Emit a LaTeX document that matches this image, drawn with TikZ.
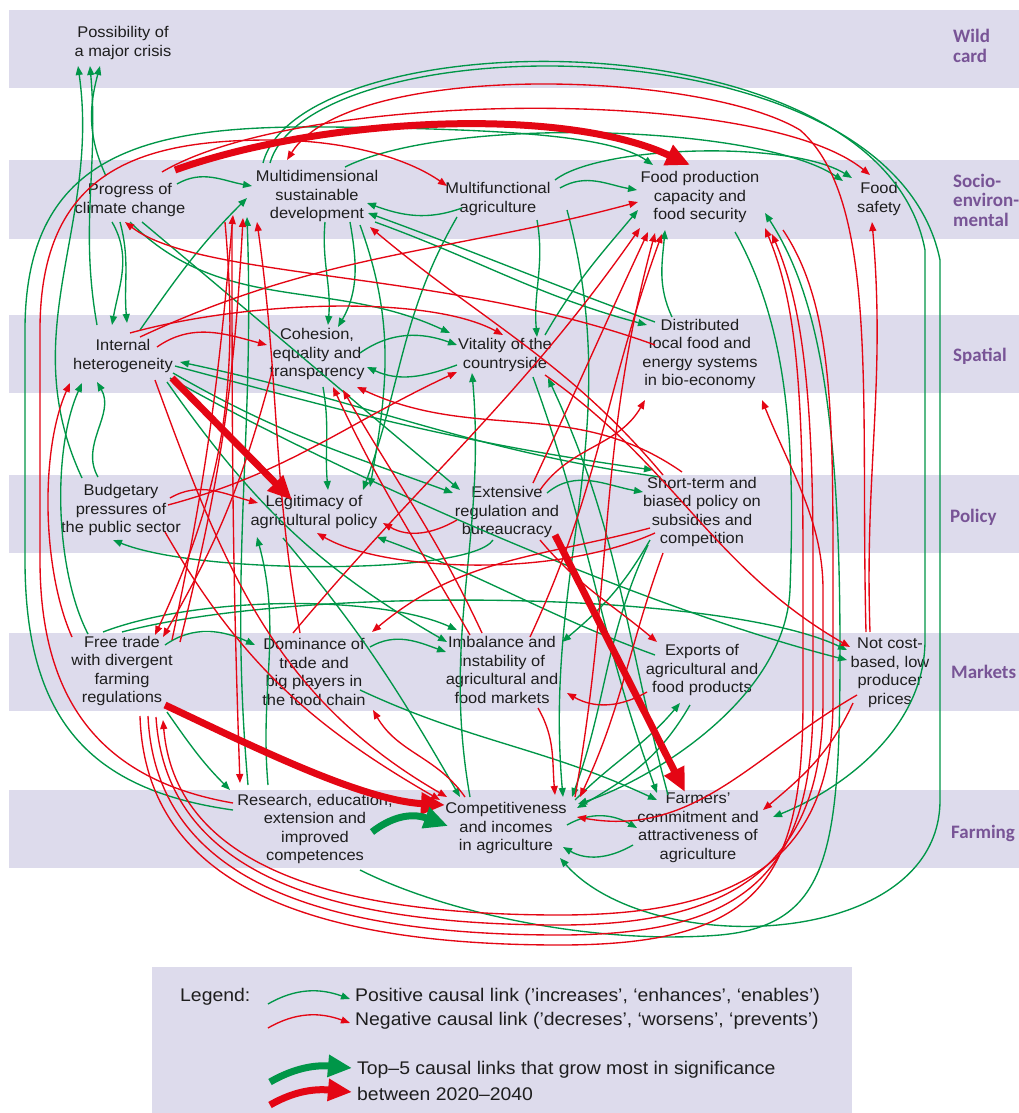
\documentclass[tikz,border=0pt]{standalone}
\usepackage{fontspec}
\setmainfont{Liberation Sans}[FakeStretch=1.06]
\newfontfamily\bandfont{Carlito}
\usetikzlibrary{arrows.meta}
\definecolor{band}{RGB}{221,219,236}
\definecolor{pgreen}{RGB}{0,150,72}
\definecolor{nred}{RGB}{228,6,20}
\definecolor{bandtxt}{RGB}{120,84,150}
\definecolor{nodetxt}{RGB}{30,30,30}
\tikzset{
  x=1pt, y=1pt,
  lbl/.style={align=center, font=\fontsize{15.5}{18.5}\selectfont, text=nodetxt, inner sep=1pt},
  legtxt/.style={anchor=west, font=\fontsize{18.3}{22}\selectfont, text=nodetxt, inner sep=0pt},
  bandlbl/.style={anchor=west, align=left, font=\bandfont\bfseries\fontsize{19}{19.5}\selectfont, text=bandtxt, inner sep=0pt},
  pl/.style={draw=pgreen, line width=1.35pt, -{Triangle[length=9pt,width=7pt]}},
  nl/.style={draw=nred, line width=1.35pt, -{Triangle[length=9pt,width=7pt]}},
  thickred/.style={draw=nred, line width=7pt, -{Triangle[length=24pt,width=21pt]}},
  thickgreen/.style={draw=pgreen, line width=7pt, -{Triangle[length=24pt,width=21pt]}},
}
\begin{document}
\begin{tikzpicture}
\useasboundingbox (0,0) rectangle (1019,-1113);
\fill[white] (0,0) rectangle (1019,-1113);
% category bands
\fill[band] (9,-10) rectangle (1019,-88);
\fill[band] (9,-160) rectangle (1019,-239);
\fill[band] (9,-315) rectangle (1019,-393);
\fill[band] (9,-475) rectangle (1019,-553);
\fill[band] (9,-633) rectangle (1019,-711);
\fill[band] (9,-790) rectangle (1019,-868);
\fill[band] (152,-967) rectangle (852,-1113);
% band titles
\node[bandlbl] (bwild) at (953,-46) {Wild\\card};
\node[bandlbl] (bsoc) at (953,-200) {Socio-\\environ-\\mental};
\node[bandlbl] (bspa) at (953,-356) {Spatial};
\node[bandlbl] (bpol) at (950,-517) {Policy};
\node[bandlbl] (bmar) at (951,-672) {Markets};
\node[bandlbl] (bfar) at (951,-833) {Farming};
% factors
\node[lbl] (poss) at (123,-43) {Possibility of\\a major crisis};
\node[lbl] (clim) at (130,-200) {Progress of\\climate change};
\node[lbl] (msd) at (317,-196) {Multidimensional\\sustainable\\development};
\node[lbl] (mfa) at (498,-199) {Multifunctional\\agriculture};
\node[lbl] (fpc) at (700,-197) {Food production\\capacity and\\food security};
\node[lbl] (fsaf) at (879,-199) {Food\\safety};
\node[lbl] (ihet) at (123,-356) {Internal\\heterogeneity};
\node[lbl] (coh) at (317,-354) {Cohesion,\\equality and\\transparency};
\node[lbl] (vit) at (505,-355) {Vitality of the\\countryside};
\node[lbl] (dist) at (700,-354) {Distributed\\local food and\\energy systems\\in bio-economy};
\node[lbl] (bud) at (121,-510) {Budgetary\\pressures of\\the public sector};
\node[lbl] (leg) at (314,-512) {Legitimacy of\\agricultural policy};
\node[lbl] (ext) at (507,-512) {Extensive\\regulation and\\bureaucracy};
\node[lbl] (stp) at (702,-512) {Short-term and\\biased policy on\\subsidies and\\competition};
\node[lbl] (ftr) at (122,-671) {Free trade\\with divergent\\farming\\regulations};
\node[lbl] (dom) at (314,-672) {Dominance of\\trade and\\big players in\\the food chain};
\node[lbl] (imb) at (502,-670) {Imbalance and\\instability of\\agricultural and\\food markets};
\node[lbl] (exp) at (702,-670) {Exports of\\agricultural and\\food products};
\node[lbl] (ncb) at (890,-673) {Not cost-\\based, low\\producer\\prices};
\node[lbl] (res) at (315,-829) {Research, education,\\extension and\\improved\\competences};
\node[lbl] (comp) at (506,-828) {Competitiveness\\and incomes\\in agriculture};
\node[lbl] (farm) at (698,-828) {Farmers’\\commitment and\\attractiveness of\\agriculture};

% ---------- positive links ----------
\draw[pl] ([shift={(-24,24)}]clim.center) to[out=115,in=-105] ([shift={(-23,-23)}]poss.center);
\draw[pl] ([shift={(-39,32)}]bud.center) to[out=115,in=-82] ([shift={(-45,-23)}]poss.center);
\draw[pl] ([shift={(-26,31)}]ihet.center) to[out=100,in=-85] ([shift={(-33,-23)}]poss.center);
\draw[pl] ([shift={(47,16)}]clim.center) to[out=30,in=170] ([shift={(-65,10)}]msd.center);
\draw[pl] ([shift={(-36,-9)}]mfa.center) to[out=200,in=-20] ([shift={(50,-7)}]msd.center);
\draw[pl] ([shift={(62,11)}]mfa.center) to[out=30,in=170] ([shift={(-63,7)}]fpc.center);
\draw[pl] ([shift={(57,19)}]mfa.center) .. controls (600,-145) and (790,-140) .. ([shift={(-27,21)}]fsaf.center);
\draw[pl] ([shift={(28,29)}]msd.center) .. controls (450,-115) and (760,-125) .. ([shift={(-36,18)}]fsaf.center);
\draw[pl] ([shift={(-54,33)}]msd.center) .. controls (300,-20) and (880,-10) .. (925,-250) -- (925,-640) .. controls (925,-730) and (840,-790) .. ([shift={(75,11)}]farm.center);
\draw[pl] ([shift={(-47,33)}]msd.center) .. controls (310,-25) and (890,-15) .. (940,-260) -- (940,-800) .. controls (940,-950) and (650,-960) .. ([shift={(54,-30)}]comp.center);
\draw[pl] ([shift={(-82,19)}]res.center) .. controls (90,-790) and (25,-720) .. (25,-560) -- (25,-330) .. controls (25,-150) and (150,-125) .. (330,-127) .. controls (500,-129) and (610,-135) .. ([shift={(-47,32)}]fpc.center);
\draw[pl] ([shift={(-28,37)}]dist.center) to[out=115,in=-95] ([shift={(-35,-33)}]fpc.center);
\draw[pl] ([shift={(-18,-22)}]clim.center) to[out=-60,in=80] ([shift={(-11,31)}]ihet.center);
\draw[pl] ([shift={(-10,-22)}]clim.center) to[out=-75,in=95] ([shift={(4,33)}]ihet.center);
\draw[pl] ([shift={(17,26)}]ihet.center) to[out=55,in=-135] ([shift={(-70,-2)}]msd.center);
\draw[pl] ([shift={(8,-26)}]msd.center) to[out=-95,in=85] ([shift={(11,29)}]coh.center);
\draw[pl] ([shift={(33,-26)}]msd.center) to[out=-80,in=60] ([shift={(21,27)}]coh.center);
\draw[pl] ([shift={(6,-33)}]coh.center) to[out=-80,in=95] ([shift={(14,22)}]leg.center);
\draw[pl] ([shift={(43,1)}]coh.center) to[out=35,in=160] ([shift={(-48,10)}]vit.center);
\draw[pl] ([shift={(-48,-10)}]vit.center) to[out=200,in=-25] ([shift={(50,-13)}]coh.center);
\draw[pl] ([shift={(50,-17)}]ihet.center) to[out=-30,in=160] ([shift={(-54,19)}]ext.center);
\draw[pl] ([shift={(52,-10)}]ihet.center) to[out=-15,in=172] ([shift={(-49,42)}]stp.center);
\draw[pl] ([shift={(-42,35)}]stp.center) to[out=172,in=-12] ([shift={(57,-6)}]ihet.center);
\draw[pl] ([shift={(-23,33)}]bud.center) to[out=120,in=-60] ([shift={(-26,-26)}]ihet.center);
\draw[pl] ([shift={(-34,37)}]ftr.center) .. controls (55,-570) and (52,-450) .. ([shift={(-41,-27)}]ihet.center);
\draw[pl] ([shift={(-14,-28)}]ext.center) .. controls (470,-575) and (200,-575) .. ([shift={(-8,-30)}]bud.center);
\draw[pl] ([shift={(40,19)}]ext.center) to[out=40,in=170] ([shift={(-59,20)}]stp.center);
\draw[pl] ([shift={(0,-22)}]clim.center) to[out=-45,in=155] ([shift={(-55,22)}]vit.center);
\draw[pl] ([shift={(12,-22)}]clim.center) to[out=-40,in=140] ([shift={(-47,22)}]ext.center);
\draw[pl] ([shift={(-41,-18)}]mfa.center) to[out=-120,in=70] ([shift={(49,22)}]leg.center);
\draw[pl] ([shift={(43,-29)}]msd.center) to[out=-70,in=80] ([shift={(56,25)}]leg.center);
\draw[pl] ([shift={(39,-21)}]mfa.center) to[out=-80,in=95] ([shift={(32,18)}]vit.center);
\draw[pl] ([shift={(69,-11)}]mfa.center) to[out=-75,in=95] ([shift={(57,31)}]comp.center);
\draw[pl] ([shift={(40,20)}]vit.center) to[out=60,in=-130] ([shift={(-62,-13)}]fpc.center);
\draw[pl] ([shift={(-36,31)}]comp.center) to[out=100,in=-85] ([shift={(-33,-18)}]vit.center);
\draw[pl] ([shift={(-67,44)}]res.center) to[out=95,in=-88] ([shift={(-70,-21)}]msd.center);
\draw[pl] ([shift={(-47,44)}]res.center) to[out=95,in=-75] ([shift={(-57,-25)}]leg.center);
\draw[pl] ([shift={(45,-41)}]res.center) .. controls (450,-915) and (600,-945) .. (720,-935) .. controls (830,-925) and (840,-850) .. (840,-650) .. controls (840,-400) and (815,-290) .. ([shift={(65,-16)}]fpc.center);
\draw[pl] ([shift={(35,-35)}]fpc.center) .. controls (790,-330) and (795,-450) .. (790,-590) .. controls (785,-700) and (650,-780) .. ([shift={(72,24)}]comp.center);
\draw[pl] ([shift={(69,28)}]comp.center) to[out=45,in=-130] ([shift={(-22,-33)}]exp.center);
\draw[pl] ([shift={(-12,-35)}]exp.center) to[out=-120,in=30] ([shift={(71,20)}]comp.center);
\draw[pl] ([shift={(61,3)}]comp.center) to[out=30,in=150] ([shift={(-61,0)}]farm.center);
\draw[pl] ([shift={(-65,-17)}]farm.center) to[out=-150,in=-30] ([shift={(57,-19)}]comp.center);
\draw[pl] ([shift={(46,-18)}]dom.center) to[out=-25,in=155] ([shift={(-41,28)}]farm.center);
\draw[pl] ([shift={(28,-22)}]vit.center) to[out=-70,in=110] ([shift={(-41,35)}]farm.center);
\draw[pl] ([shift={(-30,33)}]farm.center) to[out=105,in=-65] ([shift={(43,-23)}]vit.center);
\draw[pl] ([shift={(-52,-28)}]stp.center) to[out=-120,in=40] ([shift={(60,28)}]imb.center);
\draw[pl] ([shift={(-54,-33)}]stp.center) to[out=-115,in=70] ([shift={(66,31)}]comp.center);
\draw[pl] ([shift={(43,26)}]ftr.center) to[out=35,in=155] ([shift={(-59,27)}]dom.center);
\draw[pl] ([shift={(56,25)}]dom.center) to[out=30,in=160] ([shift={(-56,18)}]imb.center);
\draw[pl] ([shift={(-19,39)}]ftr.center) .. controls (200,-595) and (380,-595) .. ([shift={(-45,40)}]imb.center);
\draw[pl] ([shift={(0,39)}]ftr.center) .. controls (300,-585) and (720,-590) .. ([shift={(-43,23)}]ncb.center);
\draw[pl] ([shift={(47,-22)}]ihet.center) .. controls (350,-480) and (650,-610) .. ([shift={(-43,13)}]ncb.center);
\draw[pl] ([shift={(44,-26)}]ihet.center) to[out=-55,in=150] ([shift={(-55,28)}]imb.center);
\draw[pl] ([shift={(45,-41)}]ftr.center) to[out=-55,in=135] ([shift={(-85,39)}]res.center);
\draw[pl] ([shift={(-31,-26)}]leg.center) to[out=-50,in=120] ([shift={(-46,31)}]comp.center);
\draw[pl] ([shift={(-47,15)}]exp.center) to[out=160,in=-20] ([shift={(63,-25)}]leg.center);
\draw[pl] ([shift={(58,-26)}]msd.center) to[out=-20,in=165] ([shift={(-53,29)}]dist.center);
\draw[pl] ([shift={(-45,32)}]dist.center) to[out=160,in=-20] ([shift={(51,-17)}]msd.center);

% ---------- negative links ----------
\draw[nl] ([shift={(32,28)}]clim.center) .. controls (300,-90) and (760,-85) .. ([shift={(-9,24)}]fsaf.center);
\draw[nl] ([shift={(-82,26)}]res.center) .. controls (100,-780) and (40,-700) .. (40,-560) -- (40,-330) .. controls (40,-170) and (140,-140) .. (270,-140) .. controls (350,-140) and (410,-160) .. ([shift={(-51,13)}]mfa.center);
\draw[nl] ([shift={(-24,41)}]ncb.center) .. controls (860,-400) and (880,-200) .. (800,-130) .. controls (700,-70) and (350,-60) .. ([shift={(-30,36)}]msd.center);
\draw[nl] ([shift={(-20,41)}]ncb.center) to[out=92,in=-85] ([shift={(-7,-23)}]fsaf.center);
\draw[nl] ([shift={(-50,34)}]ftr.center) .. controls (42,-570) and (40,-450) .. ([shift={(-53,-27)}]ihet.center);
\draw[nl] ([shift={(34,9)}]ihet.center) to[out=35,in=165] ([shift={(-50,9)}]coh.center);
\draw[nl] ([shift={(7,23)}]ihet.center) .. controls (250,-300) and (430,-295) .. ([shift={(-2,20)}]vit.center);
\draw[nl] ([shift={(17,19)}]ihet.center) to[out=25,in=195] ([shift={(-62,-5)}]fpc.center);
\draw[nl] ([shift={(49,12)}]bud.center) to[out=30,in=165] ([shift={(-56,9)}]leg.center);
\draw[nl] ([shift={(47,5)}]bud.center) to[out=15,in=205] ([shift={(-48,-17)}]vit.center);
\draw[nl] ([shift={(-50,-8)}]ext.center) to[out=-150,in=-30] ([shift={(69,-11)}]leg.center);
\draw[nl] ([shift={(-47,-21)}]stp.center) .. controls (550,-580) and (380,-570) .. ([shift={(3,-21)}]leg.center);
\draw[nl] ([shift={(-21,39)}]dom.center) to[out=50,in=-125] ([shift={(-60,-31)}]fpc.center);
\draw[nl] ([shift={(26,29)}]ext.center) to[out=65,in=-115] ([shift={(-52,-35)}]fpc.center);
\draw[nl] ([shift={(69,31)}]comp.center) to[out=80,in=-105] ([shift={(-45,-36)}]fpc.center);
\draw[nl] ([shift={(28,33)}]imb.center) to[out=65,in=-110] ([shift={(-38,-37)}]fpc.center);
\draw[nl] ([shift={(-55,-22)}]exp.center) to[out=-150,in=-30] ([shift={(65,-23)}]imb.center);
\draw[nl] ([shift={(36,-38)}]imb.center) to[out=-60,in=95] ([shift={(49,33)}]comp.center);
\draw[nl] ([shift={(-33,-22)}]ncb.center) to[out=-150,in=-10] ([shift={(71,11)}]comp.center);
\draw[nl] ([shift={(-37,-30)}]ncb.center) to[out=-115,in=40] ([shift={(65,18)}]farm.center);
\draw[nl] ([shift={(33,-28)}]ext.center) to[out=-50,in=140] ([shift={(-45,28)}]exp.center);
\draw[nl] ([shift={(-32,35)}]imb.center) to[out=120,in=-65] ([shift={(16,-33)}]coh.center);
\draw[nl] ([shift={(-20,37)}]imb.center) to[out=115,in=-60] ([shift={(26,-36)}]coh.center);
\draw[nl] ([shift={(-20,40)}]stp.center) to[out=145,in=-25] ([shift={(40,-33)}]coh.center);
\draw[nl] ([shift={(-39,37)}]stp.center) to[out=130,in=-40] ([shift={(53,-31)}]msd.center);
\draw[nl] ([shift={(33,22)}]ext.center) to[out=55,in=-120] ([shift={(-55,-46)}]dist.center);
\draw[nl] ([shift={(18,-45)}]ftr.center) .. controls (145,-880) and (300,-945) .. (560,-945) .. controls (760,-945) and (803,-880) .. (803,-700) -- (803,-560) .. controls (803,-380) and (795,-300) .. ([shift={(65,-31)}]fpc.center);
\draw[nl] ([shift={(26,-45)}]ftr.center) .. controls (155,-870) and (300,-935) .. (560,-935) .. controls (750,-935) and (813,-870) .. (813,-700) -- (813,-560) .. controls (813,-380) and (800,-300) .. ([shift={(72,-37)}]fpc.center);
\draw[nl] ([shift={(34,-46)}]ftr.center) .. controls (165,-860) and (300,-925) .. (560,-925) .. controls (740,-925) and (823,-860) .. (823,-700) -- (823,-590) .. controls (823,-520) and (790,-470) .. ([shift={(62,-46)}]dist.center);
\draw[nl] ([shift={(83,-33)}]fpc.center) .. controls (830,-300) and (833,-400) .. (833,-560) -- (833,-700) .. controls (833,-860) and (740,-915) .. (560,-915) .. controls (320,-915) and (175,-860) .. ([shift={(41,-49)}]ftr.center);
\draw[nl] ([shift={(-92,-26)}]msd.center) to[out=-85,in=65] ([shift={(33,36)}]ftr.center);
\draw[nl] ([shift={(-45,-18)}]coh.center) to[out=-105,in=60] ([shift={(41,34)}]ftr.center);
\draw[nl] ([shift={(50,31)}]ftr.center) to[out=78,in=-95] ([shift={(-84,-19)}]msd.center);
\draw[nl] ([shift={(58,29)}]ftr.center) to[out=76,in=-93] ([shift={(-74,-22)}]msd.center);
\draw[nl] ([shift={(-14,39)}]dom.center) to[out=100,in=-82] ([shift={(-60,-26)}]msd.center);
\draw[nl] ([shift={(-85,-29)}]msd.center) to[out=-90,in=92] ([shift={(-75,46)}]res.center);
\draw[nl] ([shift={(32,-24)}]ihet.center) to[out=-70,in=150] ([shift={(-59,31)}]comp.center);
\draw[nl] ([shift={(44,-22)}]bud.center) to[out=-60,in=150] ([shift={(-66,28)}]comp.center);
\draw[nl] ([shift={(-41,31)}]comp.center) to[out=125,in=-60] ([shift={(59,-38)}]dom.center);
\draw[nl] ([shift={(40,-20)}]vit.center) to[out=-35,in=150] ([shift={(-40,26)}]ncb.center);
\draw[nl] ([shift={(-39,-41)}]stp.center) to[out=-110,in=65] ([shift={(74,31)}]comp.center);
\draw[nl] ([shift={(-52,-16)}]stp.center) to[out=-165,in=40] ([shift={(58,40)}]dom.center);
\draw[nl] ([shift={(-45,9)}]dist.center) .. controls (450,-270) and (200,-280) .. ([shift={(-5,-22)}]clim.center);

% ---------- strongest growing links ----------
\draw[thickred] ([shift={(45,30)}]clim.center) .. controls (320,-118) and (560,-105) .. ([shift={(-10,32)}]fpc.center);
\draw[thickred] ([shift={(49,-22)}]ihet.center) -- ([shift={(-22,12)}]leg.center);
\draw[thickred] ([shift={(48,-23)}]ext.center) -- ([shift={(-13,36)}]farm.center);
\draw[thickred] ([shift={(43,-34)}]ftr.center) .. controls (250,-745) and (360,-800) .. ([shift={(-61,23)}]comp.center);
\draw[thickgreen] ([shift={(57,-3)}]res.center) .. controls (390,-818) and (410,-812) .. ([shift={(-58,2)}]comp.center);

% ---------- legend ----------
\node[legtxt] (lgh) at (180,-997) {Legend:};
\coordinate (lp1) at (268,-1004);
\coordinate (lp2) at (350,-999);
\coordinate (ln1) at (268,-1028);
\coordinate (ln2) at (350,-1023);
\coordinate (lg1) at (270,-1082);
\coordinate (lg2) at (352,-1068);
\coordinate (lr1) at (270,-1105);
\coordinate (lr2) at (352,-1092);
\draw[pl] (lp1) to[out=30,in=160] (lp2);
\draw[nl] (ln1) to[out=30,in=160] (ln2);
\draw[thickgreen] (lg1) to[out=30,in=175] (lg2);
\draw[thickred] (lr1) to[out=30,in=175] (lr2);
\node[legtxt] (lt1) at (355,-997) {Positive causal link (’increases’, ‘enhances’, ‘enables’)};
\node[legtxt] (lt2) at (355,-1021) {Negative causal link (’decreses’, ‘worsens’, ‘prevents’)};
\node[legtxt] (lt3) at (357,-1070) {Top–5 causal links that grow most in significance};
\node[legtxt] (lt4) at (357,-1094) {between 2020–2040};
\end{tikzpicture}
\end{document}
